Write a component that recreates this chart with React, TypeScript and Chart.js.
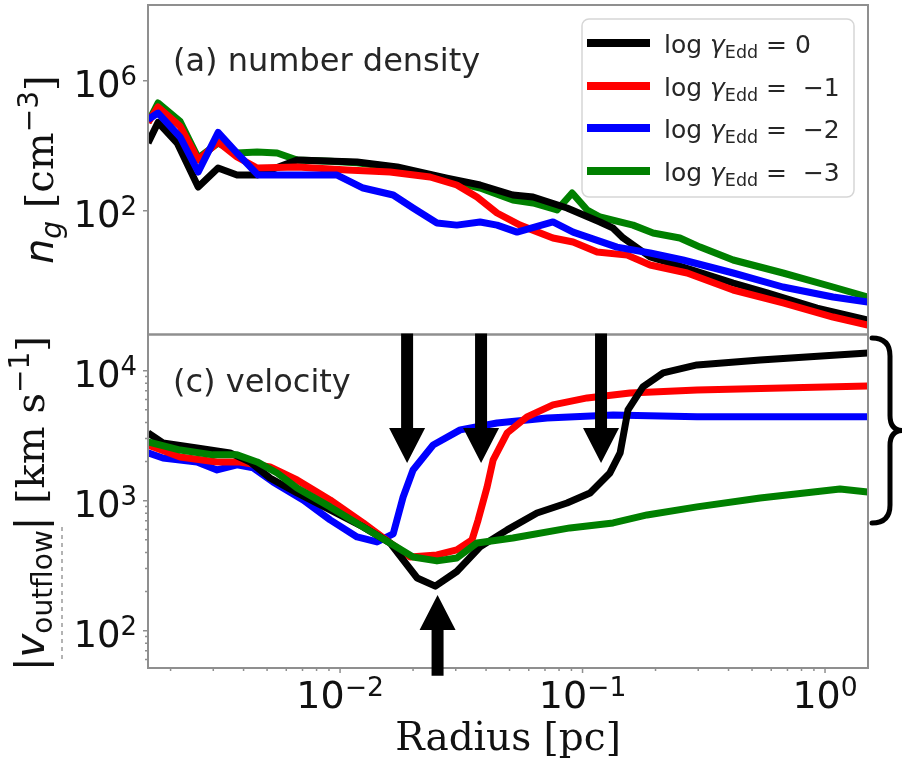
import React, { useEffect, useRef } from 'react';
import { Chart, registerables } from 'chart.js';
Chart.register(...registerables);

// ---------- axis ranges ----------
const X_MIN = 1.614e-3;
const X_MAX = 1.504;
const DEN_MIN = 0.01552;
const DEN_MAX = 2.133e8;
const VEL_MIN = 51.6;
const VEL_MAX = 18970;

// ---------- tick labels ----------
const xTickValues = [0.01, 0.1, 1];
const xTickExps = ['−2', '−1', '0'];
const denTickValues = [1e2, 1e6];
const denTickExps = ['2', '6'];
const velTickValues = [1e2, 1e3, 1e4];
const velTickExps = ['2', '3', '4'];

// ---------- series names / colours ----------
const legendValues = ['0', '−1', '−2', '−3'];
const seriesColors = ['#000000', '#ff0000', '#0000ff', '#008000'];

// ---------- (a) number density ----------
const blackDenR = [1.615e-3, 1.775e-3, 2.13e-3, 2.6e-3, 3.14e-3, 3.76e-3, 4.55e-3, 6.65e-3, 1.175e-2, 1.72e-2, 2.76e-2, 3.78e-2, 5.16e-2, 6.25e-2, 8.63e-2, 0.118, 0.1337, 0.147, 0.19, 0.2594, 0.418, 0.577, 0.927, 1.5];
const blackDenN = [1.21e4, 5.18e4, 1.21e4, 536, 2060, 1250, 1250, 3630, 3150, 2210, 1010, 618, 304, 264, 121, 45, 29, 14.5, 3.76, 1.85, 0.596, 0.294, 0.101, 0.0433];

const redDenR = [1.615e-3, 1.775e-3, 2.19e-3, 2.6e-3, 3.14e-3, 3.76e-3, 4.55e-3, 6.65e-3, 1.07e-2, 1.607e-2, 2.35e-2, 3.03e-2, 3.67e-2, 4.44e-2, 5.52e-2, 7.55e-2, 9.14e-2, 0.1148, 0.1528, 0.19, 0.27, 0.418, 0.671, 1.079, 1.5];
const redDenN = [5.18e4, 1.55e5, 3.9e4, 3630, 1.3e4, 4490, 2060, 2210, 1790, 1550, 1090, 618, 264, 85, 36, 14.5, 10.9, 5.4, 4.3, 2.13, 1.21, 0.363, 0.145, 0.0536, 0.0304];

const blueDenR = [1.615e-3, 1.775e-3, 2.19e-3, 2.6e-3, 3.14e-3, 3.76e-3, 4.59e-3, 6.65e-3, 9.72e-3, 1.245e-2, 1.656e-2, 2.0e-2, 2.51e-2, 3.03e-2, 3.78e-2, 4.44e-2, 5.37e-2, 7.55e-2, 9.14e-2, 0.1387, 0.19, 0.2594, 0.418, 0.671, 1.079, 1.5];
const blueDenN = [6.4e4, 1.01e5, 1.85e4, 1550, 2.55e4, 5960, 1250, 1250, 1250, 499, 304, 121, 42, 36, 45, 36, 22, 45, 22, 7.6, 5.0, 3.04, 1.21, 0.449, 0.221, 0.155];

const greenDenR = [1.615e-3, 1.775e-3, 2.19e-3, 2.6e-3, 3.14e-3, 3.76e-3, 4.55e-3, 5.5e-3, 6.65e-3, 9.1e-3, 1.175e-2, 1.72e-2, 2.76e-2, 3.78e-2, 5.16e-2, 6.25e-2, 7.85e-2, 9.06e-2, 0.1045, 0.118, 0.1615, 0.1954, 0.252, 0.3055, 0.418, 0.671, 1.079, 1.5];
const greenDenN = [5.18e4, 2.06e5, 5.55e4, 4190, 1.21e4, 5960, 6400, 5960, 3630, 3300, 3000, 2100, 881, 499, 213, 173, 105, 350, 105, 64, 36, 20.6, 14.5, 7.6, 3.04, 1.21, 0.449, 0.221];

// ---------- (c) velocity ----------
const blackVelR = [1.615e-3, 1.86e-3, 2.57e-3, 3.52e-3, 4.26e-3, 5.14e-3, 6.65e-3, 9.1e-3, 1.245e-2, 1.607e-2, 1.82e-2, 2.08e-2, 2.47e-2, 3.03e-2, 3.78e-2, 4.89e-2, 6.49e-2, 8.63e-2, 0.1074, 0.1297, 0.1429, 0.154, 0.1774, 0.215, 0.2965, 0.54, 1.5];
const blackVelV = [3320, 2780, 2540, 2330, 1985, 1495, 1146, 848, 628, 473, 350, 254, 220, 285, 441, 596, 804, 960, 1146, 1633, 2330, 4990, 7500, 9600, 11070, 12080, 13680];

const redVelR = [1.615e-3, 2.19e-3, 3.11e-3, 3.87e-3, 5.14e-3, 6.65e-3, 9.1e-3, 1.245e-2, 1.607e-2, 1.945e-2, 2.51e-2, 3.03e-2, 3.50e-2, 3.71e-2, 4.04e-2, 4.28e-2, 4.89e-2, 5.90e-2, 7.55e-2, 0.1045, 0.157, 0.2965, 1.5];
const redVelV = [2680, 2170, 1985, 1985, 1817, 1443, 1012, 674, 473, 369, 382, 418, 499, 711, 1274, 2060, 3320, 4410, 5450, 6170, 6740, 7110, 7620];

const blueVelR = [1.615e-3, 1.86e-3, 2.57e-3, 3.11e-3, 3.76e-3, 4.38e-3, 5.29e-3, 7.04e-3, 9.1e-3, 1.175e-2, 1.42e-2, 1.656e-2, 1.82e-2, 2.0e-2, 2.42e-2, 3.13e-2, 4.44e-2, 7.14e-2, 0.1337, 0.2965, 1.5];
const blueVelV = [2330, 2130, 1985, 1722, 1885, 1785, 1393, 1012, 711, 526, 481, 555, 1067, 1722, 2680, 3500, 3960, 4330, 4560, 4410, 4410];

const greenVelR = [1.615e-3, 2.19e-3, 2.99e-3, 3.76e-3, 4.55e-3, 5.5e-3, 6.65e-3, 9.1e-3, 1.245e-2, 1.607e-2, 2.0e-2, 2.51e-2, 3.03e-2, 3.67e-2, 5.16e-2, 8.87e-2, 0.1337, 0.1845, 0.2965, 0.54, 1.153, 1.5];
const greenVelV = [2830, 2450, 2250, 2250, 1985, 1633, 1252, 895, 628, 473, 369, 344, 362, 473, 516, 617, 674, 776, 895, 1049, 1231, 1166];

// ---------- annotations (data coordinates) ----------
const downArrowR = [0.0189, 0.03815, 0.1192];
const downArrowTipV = 1950;
const downArrowHeadV = 3620;
const upArrowR = 0.02524;
const upArrowTipV = 188;
const upArrowHeadV = 101;
const upArrowTailV = 45;
const braceV = [674, 17850];

const denR = [blackDenR, redDenR, blueDenR, greenDenR];
const denN = [blackDenN, redDenN, blueDenN, greenDenN];
const velR = [blackVelR, redVelR, blueVelR, greenVelR];
const velV = [blackVelV, redVelV, blueVelV, greenVelV];
// drawing order (0 = on top) for each panel: black, red, blue, green
const denOrder = [2, 1, 0, 3];
const velOrder = [1, 2, 3, 0];

const SANS = '"DejaVu Sans"';
const SERIF = '"DejaVu Serif"';

type Run = { t: string; font: string; dy?: number };

function runsWidth(ctx: CanvasRenderingContext2D, runs: Run[]) {
  let w = 0;
  for (const r of runs) {
    ctx.font = r.font;
    w += ctx.measureText(r.t).width;
  }
  return w;
}

function drawRuns(ctx: CanvasRenderingContext2D, runs: Run[], x: number, y: number, align: 'left' | 'center' | 'right') {
  const w = runsWidth(ctx, runs);
  let cx = align === 'left' ? x : align === 'center' ? x - w / 2 : x - w;
  ctx.textAlign = 'left';
  ctx.textBaseline = 'alphabetic';
  for (const r of runs) {
    ctx.font = r.font;
    ctx.fillText(r.t, cx, y + (r.dy || 0));
    cx += ctx.measureText(r.t).width;
  }
}

function tickRuns(exp: string, size: number): Run[] {
  return [
    { t: '10', font: `${size}px ${SANS}` },
    { t: exp, font: `${(size * 0.7).toFixed(1)}px ${SANS}`, dy: -size * 0.31 },
  ];
}

function drawArrow(ctx: CanvasRenderingContext2D, x: number, yTail: number, yHeadBase: number, yTip: number) {
  const shaftHalf = 6;
  const headHalf = 18;
  ctx.fillStyle = '#000';
  ctx.beginPath();
  ctx.moveTo(x - shaftHalf, yTail);
  ctx.lineTo(x + shaftHalf, yTail);
  ctx.lineTo(x + shaftHalf, yHeadBase);
  ctx.lineTo(x + headHalf, yHeadBase);
  ctx.lineTo(x, yTip);
  ctx.lineTo(x - headHalf, yHeadBase);
  ctx.lineTo(x - shaftHalf, yHeadBase);
  ctx.closePath();
  ctx.fill();
}

const decoPlugin = {
  id: 'deco',
  afterDraw(chart: any) {
    const ctx: CanvasRenderingContext2D = chart.ctx;
    const ca = chart.chartArea;
    const sx = chart.scales.x;
    const sd = chart.scales.yd;
    const sv = chart.scales.yv;
    ctx.save();

    // panel frames
    ctx.strokeStyle = '#8f8f8f';
    ctx.lineWidth = 2;
    ctx.strokeRect(ca.left, sd.top, ca.right - ca.left, sd.bottom - sd.top);
    ctx.strokeRect(ca.left, sv.top, ca.right - ca.left, sv.bottom - sv.top);

    // ticks
    ctx.lineWidth = 1.5;
    ctx.beginPath();
    for (const v of denTickValues) {
      const y = sd.getPixelForValue(v);
      ctx.moveTo(ca.left - 5, y);
      ctx.lineTo(ca.left, y);
    }
    for (let e = 1; e <= 4; e++) {
      for (let m = 1; m <= 9; m++) {
        const v = m * Math.pow(10, e);
        if (v < VEL_MIN || v > VEL_MAX) continue;
        const y = sv.getPixelForValue(v);
        const len = m === 1 ? 5 : 3;
        ctx.moveTo(ca.left - len, y);
        ctx.lineTo(ca.left, y);
      }
    }
    for (let e = -3; e <= 0; e++) {
      for (let m = 1; m <= 9; m++) {
        const v = m * Math.pow(10, e);
        if (v < X_MIN || v > X_MAX) continue;
        const x = sx.getPixelForValue(v);
        const len = m === 1 ? 5 : 3;
        ctx.moveTo(x, ca.bottom);
        ctx.lineTo(x, ca.bottom + len);
      }
    }
    ctx.stroke();

    // tick labels
    ctx.fillStyle = '#111';
    denTickValues.forEach((v, i) => {
      const y = sd.getPixelForValue(v);
      drawRuns(ctx, tickRuns(denTickExps[i], 37), 137, y + 16, 'right');
    });
    velTickValues.forEach((v, i) => {
      const y = sv.getPixelForValue(v);
      drawRuns(ctx, tickRuns(velTickExps[i], 37), 137, y + 16, 'right');
    });
    xTickValues.forEach((v, i) => {
      const x = sx.getPixelForValue(v);
      drawRuns(ctx, tickRuns(xTickExps[i], 38), x, 708, 'center');
    });

    // axis titles
    ctx.fillStyle = '#111';
    drawRuns(ctx, [{ t: 'Radius [pc]', font: `39px ${SERIF}` }], (ca.left + ca.right) / 2, 750, 'center');

    ctx.save();
    ctx.translate(53, (sd.top + sd.bottom) / 2);
    ctx.rotate(-Math.PI / 2);
    drawRuns(ctx, [
      { t: 'n', font: `italic 40px ${SANS}` },
      { t: 'g', font: `italic 28px ${SANS}`, dy: 8 },
      { t: ' [cm', font: `40px ${SERIF}` },
      { t: '−3', font: `28px ${SANS}`, dy: -15 },
      { t: ']', font: `40px ${SERIF}` },
    ], 0, 0, 'center');
    ctx.restore();

    ctx.save();
    ctx.translate(44, 503.5);
    ctx.rotate(-Math.PI / 2);
    drawRuns(ctx, [
      { t: '|', font: `40px ${SANS}` },
      { t: 'v', font: `italic 40px ${SANS}` },
      { t: 'outflow', font: `28px ${SANS}`, dy: 8 },
      { t: '|', font: `40px ${SANS}` },
      { t: ' [km s', font: `40px ${SERIF}` },
      { t: '−1', font: `28px ${SANS}`, dy: -15 },
      { t: ']', font: `40px ${SERIF}` },
    ], 0, 0, 'center');
    ctx.restore();

    // faint dashed artefact left of the lower panel label
    ctx.strokeStyle = '#9a9a9a';
    ctx.lineWidth = 1.5;
    ctx.setLineDash([4, 4]);
    ctx.beginPath();
    ctx.moveTo(62, 527);
    ctx.lineTo(62, 663);
    ctx.stroke();
    ctx.setLineDash([]);

    // panel labels
    ctx.fillStyle = '#262626';
    drawRuns(ctx, [{ t: '(a) number density', font: `32px ${SANS}` }], 173, 71, 'left');
    drawRuns(ctx, [{ t: '(c) velocity', font: `32px ${SANS}` }], 173, 392, 'left');

    // legend
    const lx = 582, ly = 19, lw = 272, lh = 178;
    ctx.beginPath();
    (ctx as any).roundRect(lx, ly, lw, lh, 7);
    ctx.fillStyle = 'rgba(255,255,255,0.85)';
    ctx.fill();
    ctx.strokeStyle = '#d6d6d6';
    ctx.lineWidth = 1.5;
    ctx.stroke();
    const rowY = [43, 86, 128, 171];
    legendValues.forEach((val, i) => {
      const y = rowY[i];
      ctx.strokeStyle = seriesColors[i];
      ctx.lineWidth = 8;
      ctx.lineCap = 'butt';
      ctx.beginPath();
      ctx.moveTo(587, y);
      ctx.lineTo(650, y);
      ctx.stroke();
      ctx.fillStyle = '#262626';
      const runs: Run[] = [
        { t: 'log ', font: `25px ${SANS}` },
        { t: 'γ', font: `italic 25px ${SANS}` },
        { t: 'Edd', font: `17.5px ${SANS}`, dy: 5 },
        { t: ' = ', font: `25px ${SANS}` },
        { t: val === '0' ? '0' : ' ' + val, font: `25px ${SANS}` },
      ];
      drawRuns(ctx, runs, 664, y + 10, 'left');
    });

    // arrows
    downArrowR.forEach((r) => {
      const x = sx.getPixelForValue(r);
      drawArrow(ctx, x, sv.top - 1, sv.getPixelForValue(downArrowHeadV), sv.getPixelForValue(downArrowTipV));
    });
    {
      const x = sx.getPixelForValue(upArrowR);
      drawArrow(ctx, x, sv.getPixelForValue(upArrowTailV), sv.getPixelForValue(upArrowHeadV), sv.getPixelForValue(upArrowTipV));
    }

    // curly brace
    {
      const yb = sv.getPixelForValue(braceV[0]);
      const yt = sv.getPixelForValue(braceV[1]);
      const ym = (yb + yt) / 2;
      const x0 = ca.right + 4;
      const xs = ca.right + 22;
      const xt = ca.right + 35;
      ctx.strokeStyle = '#000';
      ctx.lineWidth = 5;
      ctx.lineCap = 'round';
      ctx.lineJoin = 'round';
      ctx.beginPath();
      ctx.moveTo(x0, yt);
      ctx.quadraticCurveTo(xs, yt, xs, yt + 18);
      ctx.lineTo(xs, ym - 15);
      ctx.quadraticCurveTo(xs, ym, xt, ym);
      ctx.quadraticCurveTo(xs, ym, xs, ym + 15);
      ctx.lineTo(xs, yb - 18);
      ctx.quadraticCurveTo(xs, yb, x0, yb);
      ctx.stroke();
    }

    ctx.restore();
  },
};

export default function App() {
  const ref = useRef<HTMLCanvasElement | null>(null);
  useEffect(() => {
    if (!ref.current) return;
    const datasets: any[] = [];
    for (let i = 0; i < 4; i++) {
      datasets.push({
        label: 'den ' + legendValues[i],
        data: denR[i].map((r, j) => ({ x: r, y: denN[i][j] })),
        borderColor: seriesColors[i],
        xAxisID: 'x',
        yAxisID: 'yd',
        order: denOrder[i],
      });
      datasets.push({
        label: 'vel ' + legendValues[i],
        data: velR[i].map((r, j) => ({ x: r, y: velV[i][j] })),
        borderColor: seriesColors[i],
        xAxisID: 'x',
        yAxisID: 'yv',
        order: velOrder[i],
      });
    }
    const hidden = {
      grid: { display: false },
      border: { display: false },
      ticks: { display: false },
      title: { display: false },
    };
    const chart = new Chart(ref.current, {
      type: 'line',
      data: { datasets },
      options: {
        animation: false,
        responsive: false,
        maintainAspectRatio: false,
        devicePixelRatio: 1,
        layout: { padding: { left: 0, right: 34, top: 5, bottom: 0 } },
        plugins: { legend: { display: false }, tooltip: { enabled: false } },
        elements: {
          point: { radius: 0 },
          line: { borderWidth: 7, tension: 0, borderJoinStyle: 'round', borderCapStyle: 'butt', fill: false },
        },
        scales: {
          x: {
            type: 'logarithmic', position: 'bottom', min: X_MIN, max: X_MAX, ...hidden,
            afterFit: (s: any) => { s.height = 97; },
          },
          yv: {
            type: 'logarithmic', position: 'left', min: VEL_MIN, max: VEL_MAX,
            stack: 'panels', stackWeight: 333.5, ...hidden,
            afterFit: (s: any) => { s.width = 148; },
          },
          yd: {
            type: 'logarithmic', position: 'left', min: DEN_MIN, max: DEN_MAX,
            stack: 'panels', stackWeight: 329.5, ...hidden,
            afterFit: (s: any) => { s.width = 148; },
          },
        } as any,
      },
      plugins: [decoPlugin],
    } as any);
    return () => chart.destroy();
  }, []);
  return (
    <div style={{ position: 'absolute', left: 0, top: 0, width: 902, height: 765, background: '#fff' }}>
      <canvas ref={ref} width={902} height={765} style={{ display: 'block', width: 902, height: 765 }} />
    </div>
  );
}
